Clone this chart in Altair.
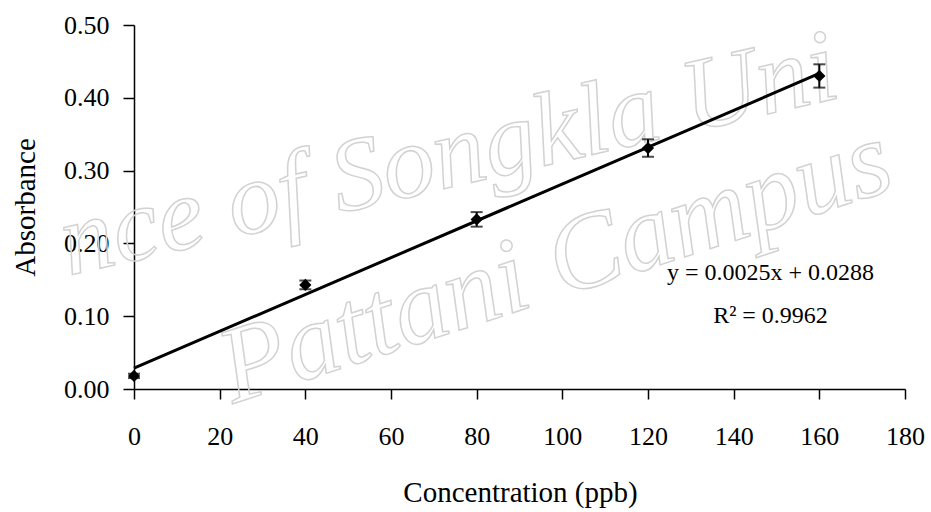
import altair as alt
import pandas as pd

# Data
conc = [0, 40, 80, 120, 160]
absorb = [0.018, 0.143, 0.233, 0.331, 0.430]
err = [0.003, 0.006, 0.010, 0.012, 0.016]

x_ticks = [0, 20, 40, 60, 80, 100, 120, 140, 160, 180]
y_ticks = [0.0, 0.1, 0.2, 0.3, 0.4, 0.5]

eq_text = ["y = 0.0025x + 0.0288", "R\u00b2 = 0.9962"]
eq_x = [148.6, 148.6]
eq_y = [0.159, 0.100]

# faint scan watermark (visible portion)
wm_text = ["nce of Songkla Uni", "Pattani Campus"]
wm_x = [73.5, 98.4]
wm_y = [0.320, 0.170]
wm_angle = [347, 342]
wm_size = [104, 108]

df = pd.DataFrame({"conc": conc, "absorb": absorb, "err": err})
df["lo"] = df["absorb"] - df["err"]
df["hi"] = df["absorb"] + df["err"]
eq_df = pd.DataFrame({"x": eq_x, "y": eq_y, "t": eq_text})
wm_df = pd.DataFrame({"x": wm_x, "y": wm_y, "t": wm_text, "a": wm_angle, "s": wm_size})

FONT = "Liberation Serif"

xscale = alt.Scale(domain=[0, 180], nice=False, zero=False)
yscale = alt.Scale(domain=[0, 0.5], nice=False, zero=False)

xenc = alt.X(
    "conc:Q",
    scale=xscale,
    axis=alt.Axis(
        values=x_ticks,
        title="Concentration (ppb)",
        titleFont=FONT,
        titleFontSize=29,
        titleFontWeight="normal",
        titleColor="black",
        titleX=386,
        titleY=103,
        titleAlign="center",
        titleBaseline="middle",
        labelFont=FONT,
        labelFontSize=26,
        labelColor="black",
        labelPadding=24,
        tickSize=10,
        tickColor="black",
        tickWidth=1.5,
        domainColor="black",
        domainWidth=1.5,
        grid=False,
        labelFlush=False,
    ),
)
yenc = alt.Y(
    "absorb:Q",
    scale=yscale,
    axis=alt.Axis(
        values=y_ticks,
        format=".2f",
        title="Absorbance",
        titleFont=FONT,
        titleFontSize=29,
        titleFontWeight="normal",
        titleColor="black",
        titleAngle=270,
        titleX=-109,
        titleY=182,
        titleAlign="center",
        titleBaseline="middle",
        labelFont=FONT,
        labelFontSize=26,
        labelColor="black",
        labelPadding=14,
        tickSize=11,
        tickColor="black",
        tickWidth=1.5,
        domainColor="black",
        domainWidth=1.5,
        grid=False,
        labelFlush=False,
    ),
)

watermark = alt.Chart(wm_df).mark_text(
    font=FONT,
    fontStyle="italic",
    fill="white",
    fillOpacity=0,
    stroke="#d2d2d2",
    strokeWidth=1.5,
    align="center",
    baseline="middle",
).encode(
    x=alt.X("x:Q", scale=xscale),
    y=alt.Y("y:Q", scale=yscale),
    text="t:N",
    angle=alt.Angle("a:Q", scale=None),
    size=alt.Size("s:Q", scale=None),
)

base = alt.Chart(df)

fit = base.transform_regression("conc", "absorb", extent=[0, 160]).mark_line(
    color="black", strokeWidth=3
).encode(x=xenc, y=yenc)

bars = base.mark_rule(color="black", strokeWidth=2).encode(
    x="conc:Q", y="lo:Q", y2="hi:Q"
)
cap_lo = base.mark_tick(color="black", size=12, thickness=2, orient="horizontal").encode(
    x="conc:Q", y="lo:Q"
)
cap_hi = base.mark_tick(color="black", size=12, thickness=2, orient="horizontal").encode(
    x="conc:Q", y="hi:Q"
)
pts = base.mark_point(shape="diamond", filled=True, color="black", size=150, opacity=1).encode(
    x="conc:Q", y="absorb:Q"
)

eq = alt.Chart(eq_df).mark_text(
    font=FONT, fontSize=24, color="black", align="center", baseline="middle"
).encode(x=alt.X("x:Q", scale=xscale), y=alt.Y("y:Q", scale=yscale), text="t:N")

chart = (
    alt.layer(watermark, fit, bars, cap_lo, cap_hi, pts, eq)
    .properties(
        width=771,
        height=364,
        autosize=alt.AutoSizeParams(type="none"),
        padding={"left": 134, "top": 25, "right": 26, "bottom": 123},
        background="white",
    )
    .configure_view(stroke=None)
)

chart.save("out.html", embed_options={"renderer": "svg", "actions": False})
